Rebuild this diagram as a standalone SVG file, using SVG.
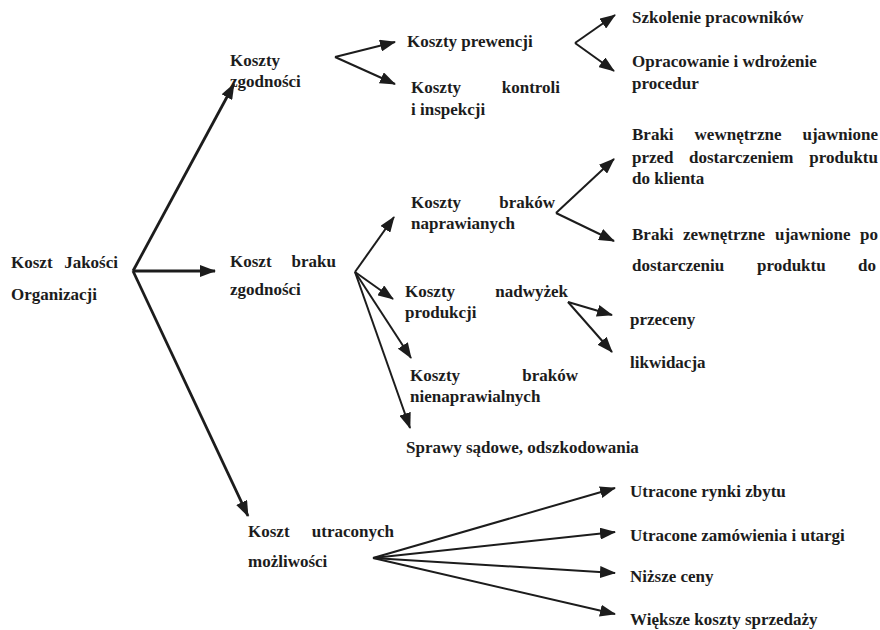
<svg xmlns="http://www.w3.org/2000/svg" width="880" height="630" viewBox="0 0 880 630">
<style>
text{font-family:"Liberation Serif","Times New Roman",serif;font-weight:bold;font-size:17px;fill:#1c1c1c}
.e{text-anchor:end}
.c line{stroke:#1c1c1c;stroke-width:2;marker-end:url(#ah)}
.c line.m{stroke-width:2.8}
</style>
<defs>
<marker id="ah" markerUnits="userSpaceOnUse" markerWidth="16" markerHeight="12" refX="15" refY="6" orient="auto">
<path d="M0,0 L16,6 L0,12 z" fill="#1c1c1c"/>
</marker>
</defs>
<rect width="880" height="630" fill="#fff"/>
<g id="connectors" class="c">
<line class="m" x1="133" y1="271" x2="234" y2="84"/>
<line class="m" x1="133" y1="271" x2="215" y2="271"/>
<line class="m" x1="133" y1="271" x2="248" y2="516"/>
<line x1="335" y1="57" x2="395" y2="42"/>
<line x1="335" y1="57" x2="395" y2="84"/>
<line x1="575" y1="43" x2="615" y2="15"/>
<line x1="575" y1="43" x2="614" y2="71"/>
<line x1="556" y1="213" x2="614" y2="159"/>
<line x1="556" y1="213" x2="614" y2="241"/>
<line x1="355" y1="272" x2="394" y2="217"/>
<line x1="355" y1="272" x2="393" y2="299"/>
<line x1="355" y1="272" x2="411" y2="358"/>
<line x1="355" y1="272" x2="410" y2="428"/>
<line x1="568" y1="302" x2="612" y2="315"/>
<line x1="568" y1="302" x2="612" y2="352"/>
<line x1="373" y1="558" x2="615" y2="488"/>
<line x1="373" y1="558" x2="615" y2="532"/>
<line x1="373" y1="558" x2="615" y2="573"/>
<line x1="373" y1="558" x2="615" y2="614"/>
</g>
<g id="root"><text x="11" y="268">Koszt</text><text class="e" x="118" y="268">Jakości</text><text x="11" y="300">Organizacji</text></g>
<g id="zgodnosc"><text x="230" y="66">Koszty</text><text x="230" y="87">zgodności</text></g>
<g id="prewencja"><text x="407" y="47">Koszty prewencji</text></g>
<g id="kontrola"><text x="411" y="93">Koszty</text><text class="e" x="560" y="93">kontroli</text><text x="411" y="115">i inspekcji</text></g>
<g id="szkolenie"><text x="632" y="23">Szkolenie pracowników</text></g>
<g id="procedury"><text x="632" y="67">Opracowanie i wdrożenie</text><text x="632" y="89">procedur</text></g>
<g id="braki-wew"><text x="632" y="140">Braki</text><text x="694.6" y="140">wewnętrzne</text><text class="e" x="878" y="140">ujawnione</text><text x="632" y="163">przed</text><text x="689" y="163">dostarczeniem</text><text class="e" x="878" y="163">produktu</text><text x="632" y="184">do klienta</text></g>
<g id="braki-napr"><text x="411" y="208">Koszty</text><text class="e" x="555" y="208">braków</text><text x="411" y="229">naprawianych</text></g>
<g id="braki-zew"><text x="632" y="240">Braki</text><text x="683" y="240">zewnętrzne</text><text x="775" y="240">ujawnione</text><text class="e" x="878" y="240">po</text><text x="632" y="271">dostarczeniu</text><text x="757" y="271">produktu</text><text class="e" x="876" y="271">do</text></g>
<g id="brak-zgodnosci"><text x="230" y="267">Koszt</text><text class="e" x="336" y="267">braku</text><text x="230" y="295">zgodności</text></g>
<g id="nadwyzki"><text x="405" y="297">Koszty</text><text class="e" x="568" y="297">nadwyżek</text><text x="405" y="318">produkcji</text></g>
<g id="przeceny"><text x="630" y="325">przeceny</text></g>
<g id="likwidacja"><text x="630" y="368">likwidacja</text></g>
<g id="braki-nienapr"><text x="410" y="381">Koszty</text><text class="e" x="578" y="381">braków</text><text x="410" y="402">nienaprawialnych</text></g>
<g id="sprawy"><text x="406" y="453">Sprawy sądowe, odszkodowania</text></g>
<g id="utracone-mozliwosci"><text x="248" y="537">Koszt</text><text class="e" x="394" y="537">utraconych</text><text x="248" y="567">możliwości</text></g>
<g id="rynki"><text x="630" y="497">Utracone rynki zbytu</text></g>
<g id="zamowienia"><text x="630" y="541">Utracone zamówienia i utargi</text></g>
<g id="ceny"><text x="630" y="582">Niższe ceny</text></g>
<g id="sprzedaz"><text x="630" y="625">Większe koszty sprzedaży</text></g>
</svg>
